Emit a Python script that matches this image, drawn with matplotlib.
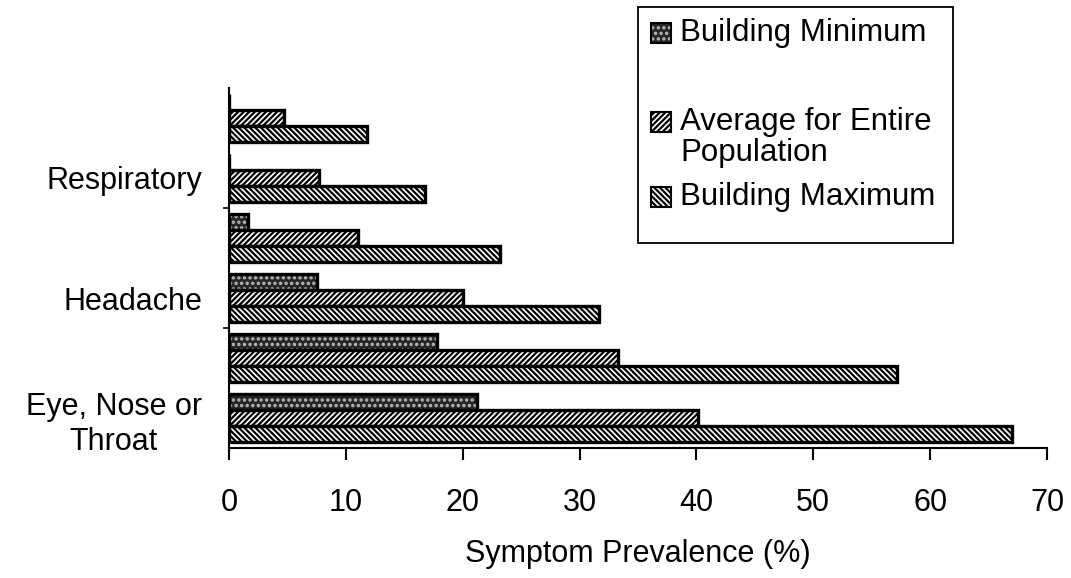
import numpy as np
import matplotlib
matplotlib.use('Agg')
import matplotlib.pyplot as plt
from matplotlib.patches import Rectangle

plt.rcParams['font.family'] = ['Liberation Sans', 'DejaVu Sans']
plt.rcParams['hatch.linewidth'] = 1.6

# groups from bottom to top; only every second group is labelled
group_labels = ['Eye, Nose or\nThroat', '', 'Headache', '', 'Respiratory', '']
building_min = [21.2, 17.8, 7.5, 1.6, 0.0, 0.0]
population_avg = [40.1, 33.3, 20.0, 11.0, 7.7, 4.7]
building_max = [67.0, 57.2, 31.7, 23.2, 16.8, 11.8]
series_names = ['Building Minimum', 'Average for Entire\nPopulation', 'Building Maximum']
xticks = [0, 10, 20, 30, 40, 50, 60, 70]

MIN_STYLE = dict(facecolor='#262626', edgecolor='#bdbdbd', hatch='...')
AVG_STYLE = dict(facecolor='white', edgecolor='black', hatch='//////')
MAX_STYLE = dict(facecolor='white', edgecolor='black', hatch='\\\\\\\\\\\\')

W, H = 1071, 578
fig = plt.figure(figsize=(W / 100, H / 100), dpi=100)
ax = fig.add_axes([229 / W, 1 - 448 / H, (1047 - 229) / W, (448 - 88) / H])

y = np.arange(len(group_labels)) + 0.5
bh = 0.272

# hatched fill first, black outline on top
for offset, vals, style in [(bh, building_min, MIN_STYLE),
                            (0, population_avg, AVG_STYLE),
                            (-bh, building_max, MAX_STYLE)]:
    ax.barh(y + offset, vals, height=bh, linewidth=0, **style)
    ax.barh(y + offset, vals, height=bh, fill=False, edgecolor='black', linewidth=2.4)

ax.set_xlim(0, 70)
ax.set_ylim(0, 6)
ax.set_xticks(xticks)
ax.tick_params(axis='x', direction='out', length=8.6, width=1.5, pad=20, labelsize=22)
ax.set_yticks(y[::2])
ax.set_yticklabels(group_labels[::2], fontsize=22, multialignment='center',
                   linespacing=1.25)
ax.tick_params(axis='y', length=0, pad=19.5)
ax.set_yticks([2, 4], minor=True)
ax.tick_params(axis='y', which='minor', length=4, width=1.2)
for s in ['top', 'right']:
    ax.spines[s].set_visible(False)
ax.spines['left'].set_linewidth(1.5)
ax.spines['bottom'].set_linewidth(1.5)
ax.set_xlabel('Symptom Prevalence (%)', fontsize=22, labelpad=15)


def fx(px):
    return px / W


def fy(py):
    return 1 - py / H


# hand-drawn legend box
fig.add_artist(Rectangle((fx(638), fy(243)), fx(953) - fx(638), fy(7) - fy(243),
                         transform=fig.transFigure, fill=False, edgecolor='black',
                         linewidth=1.3))
sq = 20
for cy, style, name in zip([33, 122, 197], [MIN_STYLE, AVG_STYLE, MAX_STYLE], series_names):
    fig.add_artist(Rectangle((fx(651), fy(cy + sq / 2)), sq / W, sq / H,
                             transform=fig.transFigure, linewidth=0, **style))
    fig.add_artist(Rectangle((fx(651), fy(cy + sq / 2)), sq / W, sq / H,
                             transform=fig.transFigure, fill=False,
                             edgecolor='black', linewidth=1.5))
    for i, line in enumerate(name.split('\n')):
        fig.text(fx(680), fy(cy + i * 31), line, fontsize=22.5, ha='left', va='center')

fig.savefig('out.png', dpi=100)
